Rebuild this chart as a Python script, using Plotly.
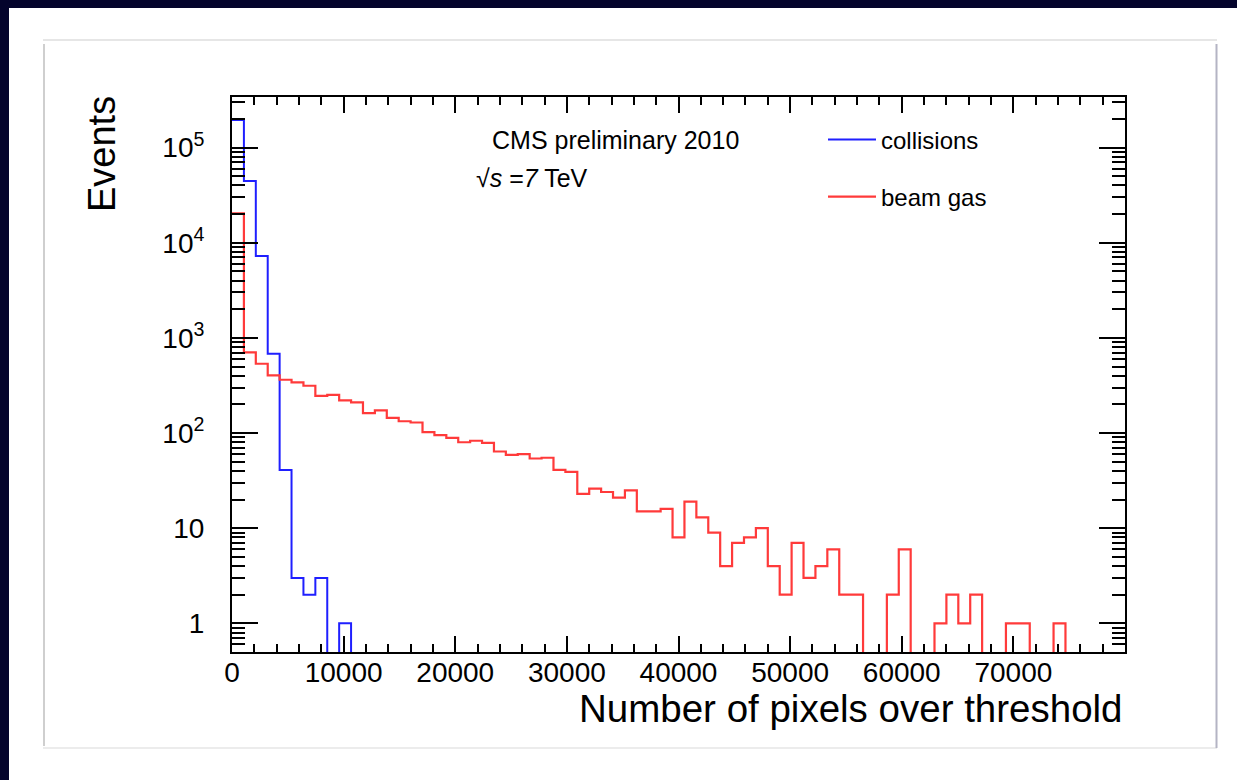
import numpy as np
import plotly.graph_objects as go

# ---------------- data ----------------
X_MIN, X_MAX, N_BINS = 0, 80000, 75

collisions = [195000, 44500, 7250, 680, 41, 3, 2, 3, 0, 1,
              0, 0, 0, 0, 0, 0, 0, 0, 0, 0,
              0, 0, 0, 0, 0, 0, 0, 0, 0, 0,
              0, 0, 0, 0, 0, 0, 0, 0, 0, 0,
              0, 0, 0, 0, 0, 0, 0, 0, 0, 0,
              0, 0, 0, 0, 0, 0, 0, 0, 0, 0,
              0, 0, 0, 0, 0, 0, 0, 0, 0, 0,
              0, 0, 0, 0, 0]

beam_gas = [20400, 705, 535, 403, 363, 340, 314, 246, 252, 220,
            210, 162, 173, 144, 133, 129, 102, 95, 89, 80,
            83, 79, 64, 59, 60, 54, 55, 41, 39, 23,
            26, 24, 21, 25, 15, 15, 16, 8, 19, 13,
            9, 4, 7, 8, 10, 4, 2, 7, 3, 4,
            6, 2, 2, 0, 0, 2, 6, 0, 0, 1,
            2, 1, 2, 0, 0, 1, 1, 0, 0, 1,
            0, 0, 0, 0, 0]

x_tick_vals = [0, 10000, 20000, 30000, 40000, 50000, 60000, 70000]
x_tick_text = ["0", "10000", "20000", "30000", "40000", "50000", "60000", "70000"]
y_tick_vals = [1, 10, 100, 1000, 10000, 100000]
y_tick_text = ["1", "10", "10<sup>2</sup>", "10<sup>3</sup>", "10<sup>4</sup>", "10<sup>5</sup>"]

series_names = ["collisions", "beam gas"]
title_text = "CMS preliminary 2010"
energy_text = "\u221a<i>s</i> =<i>7</i> TeV"
x_title = "Number of pixels over threshold"
y_title = "Events"

# ---------------- figure ----------------
W, H = 1237, 780
L, R, T, B = 232, 112, 97, 128
PW, PH = W - L - R, H - T - B
FONT = "Liberation Sans"


def px(xp):
    return (xp - L) / PW


def py(yp):
    return (T + PH - yp) / PH


edges = np.linspace(X_MIN, X_MAX, N_BINS + 1)


def step_y(counts):
    c = np.asarray(counts, dtype=float)
    c = np.where(c > 0, c, 1e-3)  # empty bins drop below the frame (clipped)
    return np.append(c, c[-1])


fig = go.Figure()
fig.add_trace(go.Scatter(x=edges, y=step_y(collisions), mode="lines", line_shape="hv",
                         line=dict(color="#1f1fff", width=2), name=series_names[0],
                         legend="legend"))
fig.add_trace(go.Scatter(x=edges, y=step_y(beam_gas), mode="lines", line_shape="hv",
                         line=dict(color="#ff3a3a", width=2.2), name=series_names[1],
                         legend="legend2"))

minor_y = [m * 10 ** e for e in range(-1, 6) for m in range(2, 10)]

fig.update_layout(
    width=W, height=H,
    margin=dict(l=L, r=R, t=T, b=B, pad=0),
    paper_bgcolor="white", plot_bgcolor="white",
    font=dict(family=FONT, color="black"),
    showlegend=True,
    legend=dict(x=px(823), y=py(140), xanchor="left", yanchor="middle",
                bgcolor="rgba(0,0,0,0)", font=dict(size=24, family=FONT),
                itemwidth=48),
    legend2=dict(x=px(823), y=py(197), xanchor="left", yanchor="middle",
                 bgcolor="rgba(0,0,0,0)", font=dict(size=24, family=FONT),
                 itemwidth=48),
    xaxis=dict(range=[X_MIN, X_MAX], tickmode="array", tickvals=x_tick_vals,
               ticktext=x_tick_text,
               ticks="inside", ticklen=16, tickwidth=2, tickcolor="black",
               showline=True, linecolor="black", linewidth=2, mirror="ticks",
               showgrid=False, zeroline=False, ticklabelstandoff=-6,
               tickfont=dict(size=28, family=FONT, color="black"),
               minor=dict(dtick=2000, tick0=0, ticks="inside", ticklen=8,
                          tickwidth=2, tickcolor="black", showgrid=False)),
    yaxis=dict(type="log", range=[np.log10(0.5), np.log10(3.4e5)],
               tickmode="array", tickvals=y_tick_vals, ticktext=y_tick_text,
               ticks="inside", ticklen=26, tickwidth=2, tickcolor="black",
               showline=True, linecolor="black", linewidth=2, mirror="ticks",
               showgrid=False, zeroline=False, ticklabelstandoff=20,
               tickfont=dict(size=28, family=FONT, color="black"),
               minor=dict(tickmode="array", tickvals=minor_y, ticks="inside",
                          ticklen=13, tickwidth=2, tickcolor="black", showgrid=False)),
)

# axis titles and texts
fig.add_annotation(text=x_title, xref="paper", yref="paper", x=1.0, y=py(708),
                   xanchor="right", yanchor="middle", showarrow=False,
                   font=dict(size=38.5, family=FONT, color="black"))
fig.add_annotation(text=y_title, xref="paper", yref="paper", x=px(102), y=py(94),
                   xanchor="center", yanchor="top", textangle=-90, showarrow=False,
                   font=dict(size=38, family=FONT, color="black"))
fig.add_annotation(text=title_text, xref="paper", yref="paper", x=px(490), y=py(140),
                   xanchor="left", yanchor="middle", showarrow=False,
                   font=dict(size=25, family=FONT, color="black"))
fig.add_annotation(text=energy_text, xref="paper", yref="paper", x=px(474), y=py(178),
                   xanchor="left", yanchor="middle", showarrow=False,
                   font=dict(size=25, family=FONT, color="black"))

# page decoration: dark border strips and light inner panel frame
NAVY = "#04042c"
fig.add_shape(type="rect", xref="paper", yref="paper", x0=px(-5), x1=px(W + 5),
              y0=py(8), y1=py(-5), fillcolor=NAVY, line=dict(width=0), layer="above")
fig.add_shape(type="rect", xref="paper", yref="paper", x0=px(-5), x1=px(9),
              y0=py(H + 5), y1=py(-5), fillcolor=NAVY, line=dict(width=0), layer="above")
fig.add_shape(type="line", xref="paper", yref="paper", x0=px(43), x1=px(1217),
              y0=py(40), y1=py(40), line=dict(color="#e6e6e6", width=2))
fig.add_shape(type="line", xref="paper", yref="paper", x0=px(43), x1=px(1217),
              y0=py(748), y1=py(748), line=dict(color="#ececec", width=2))
fig.add_shape(type="line", xref="paper", yref="paper", x0=px(44), x1=px(44),
              y0=py(44), y1=py(746), line=dict(color="#cfcfcf", width=2))
fig.add_shape(type="line", xref="paper", yref="paper", x0=px(1216.5), x1=px(1216.5),
              y0=py(44), y1=py(748), line=dict(color="#b4b4c4", width=2))

fig.write_html("out.html")
